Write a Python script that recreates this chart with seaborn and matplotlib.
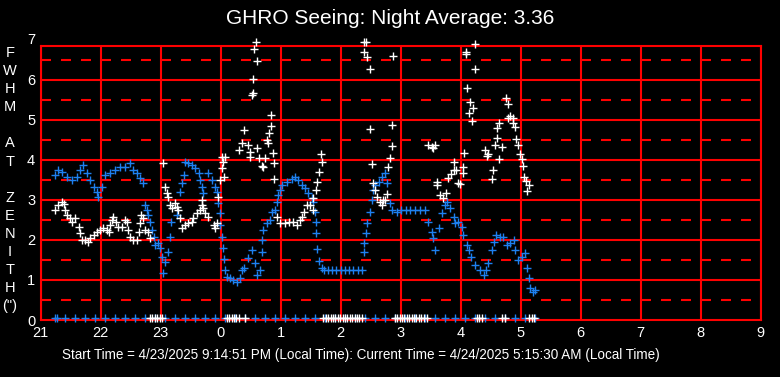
import matplotlib
matplotlib.use("Agg")
import matplotlib.pyplot as plt
import pandas as pd
import seaborn as sns

sns.set_style("dark", {"axes.facecolor": "black", "figure.facecolor": "black"})
plt.rcParams["font.family"] = ["Liberation Sans", "DejaVu Sans"]
plt.rcParams["lines.scale_dashes"] = False

TITLE = "GHRO Seeing: Night Average: 3.36"
FOOTER = ("Start Time = 4/23/2025 9:14:51 PM (Local Time): "
          "Current Time = 4/24/2025 5:15:30 AM (Local Time)")
YLABEL = ["F", "W", "H", "M", "", "A", "T", "", "Z", "E", "N", "I", "T", "H", '(")']

# hours since midnight of the start day (24+ = next morning)
hour_ticks = list(range(21, 34))
hour_labels = [str(h % 24) for h in hour_ticks]
y_ticks = [0, 1, 2, 3, 4, 5, 6]

# FWHM at zenith (white series)
white_t = [21.24, 21.29, 21.35, 21.38, 21.41, 21.43, 21.49, 21.52, 21.57, 21.63,
           21.66, 21.68, 21.74, 21.79, 21.82, 21.88, 21.93, 21.99, 22.04, 22.10,
           22.13, 22.16, 22.18, 22.21, 22.26, 22.29, 22.35, 22.41, 22.44, 22.46,
           22.49, 22.54, 22.60, 22.63, 22.65, 22.67, 22.70, 22.74, 22.79, 22.82,
           23.04, 23.07, 23.10, 23.12, 23.15, 23.18, 23.24, 23.27, 23.29, 23.32,
           23.35, 23.41, 23.46, 23.52, 23.54, 23.60, 23.66, 23.68, 23.69, 23.71,
           23.74, 23.79, 23.88, 23.91, 23.93, 23.96, 23.99, 24.02, 24.04, 24.07,
           24.02, 24.06,
           24.35, 24.31, 24.39, 24.46, 24.49, 24.48, 24.52, 24.53, 24.54, 24.56,
           24.58, 24.60, 24.61, 24.64, 24.68, 24.71, 24.74, 24.77, 24.79, 24.81,
           24.83, 24.84, 24.87, 24.88, 24.89, 24.93, 24.99, 25.07, 25.13, 25.21,
           25.27, 25.32, 25.35, 25.38, 25.43, 25.49, 25.53, 25.54, 25.59, 25.61,
           25.64, 25.68, 25.67,
           26.38, 26.42, 26.38, 26.44, 26.48, 26.49, 26.52, 26.54, 26.57, 26.60,
           26.66, 26.68, 26.71, 26.74, 26.77, 26.79, 26.82, 26.85, 26.86, 26.87,
           27.46, 27.52, 27.54, 27.57, 27.60, 27.61, 27.66, 27.71, 27.76, 27.79,
           27.83, 27.88, 27.89, 27.92, 27.96, 27.99, 28.03, 28.04, 28.06, 28.08,
           28.09, 28.11, 28.13, 28.16, 28.19, 28.21, 28.23, 28.24,
           28.41, 28.43, 28.46, 28.52, 28.54, 28.57, 28.60, 28.61, 28.63, 28.64,
           28.68, 28.75, 28.78, 28.79, 28.82, 28.87, 28.87, 28.91, 28.92, 28.95,
           28.98, 29.02, 29.04, 29.06, 29.09, 29.10, 29.13]
white_v = [2.75, 2.87, 2.96, 2.90, 2.75, 2.62, 2.54, 2.46, 2.54, 2.33,
           2.17, 2.00, 2.00, 1.96, 2.04, 2.12, 2.21, 2.25, 2.29, 2.25,
           2.21, 2.37, 2.50, 2.57, 2.46, 2.33, 2.33, 2.50, 2.46, 2.25,
           2.08, 2.00, 2.00, 2.21, 2.42, 2.62, 2.54, 2.25, 2.21, 2.04,
           3.92, 3.33, 3.17, 3.08, 2.87, 2.79, 2.92, 2.83, 2.75, 2.54,
           2.29, 2.37, 2.42, 2.46, 2.54, 2.67, 2.75, 2.87, 3.00, 2.79,
           2.67, 2.58, 2.37, 2.29, 2.42, 3.08, 3.50, 3.79, 3.96, 4.08,
           4.08, 3.58,
           4.43, 4.25, 4.75, 4.37, 4.21, 4.08, 5.62, 5.67, 6.02, 6.77,
           6.94, 6.48, 4.29, 4.04, 3.85, 3.83, 4.04, 4.50, 4.43, 4.68,
           4.85, 5.12, 4.17, 3.92, 3.52, 2.58, 2.42, 2.43, 2.46, 2.46,
           2.37, 2.50, 2.58, 2.71, 2.87, 2.87, 2.75, 3.04, 3.25, 3.46,
           3.71, 3.96, 4.15,
           6.94, 6.94, 6.69, 6.58, 6.27, 4.77, 3.89, 3.42, 3.25, 3.08,
           2.96, 2.87, 3.00, 3.00, 3.15, 3.82, 4.04, 4.35, 4.87, 6.60,
           4.37, 4.33, 4.29, 4.37, 3.37, 3.46, 3.12, 3.04, 3.18, 3.54,
           3.65, 3.75, 3.94, 3.75, 3.42, 3.40, 3.67, 3.83, 4.17, 6.71,
           6.65, 5.79, 5.17, 5.46, 4.98, 5.29, 6.27, 6.89,
           4.25, 4.10, 4.15, 3.52, 3.75, 4.37, 4.54, 4.79, 4.93, 4.02,
           4.32, 5.54, 5.40, 5.04, 5.10, 5.04, 4.92, 4.82, 4.52, 4.37,
           4.15, 4.02, 3.85, 3.58, 3.48, 3.22, 3.37]

# white samples sitting on the zero line
white_zero_t = [22.82, 22.86, 22.90, 22.94, 22.98, 23.02,
                24.10, 24.14, 24.18, 24.22, 24.26, 24.30, 24.41,
                25.71, 25.75, 25.79, 25.83, 25.87, 25.91, 25.95, 25.99, 26.03,
                26.07, 26.11, 26.15, 26.19, 26.23, 26.27, 26.31, 26.35,
                26.90, 26.94, 26.98, 27.02, 27.06, 27.10, 27.14, 27.18, 27.22,
                27.26, 27.30, 27.34, 27.38, 27.43,
                28.27, 28.31, 28.35, 28.69, 28.73,
                29.14, 29.18, 29.22]
white_zero_v = [0.04] * len(white_zero_t)

# blue series
blue_t = [21.24, 21.29, 21.35, 21.43, 21.52, 21.60, 21.66, 21.71, 21.77, 21.82,
          21.88, 21.93, 21.96, 22.02, 22.07, 22.16, 22.24, 22.32, 22.41, 22.49,
          22.54, 22.60, 22.65, 22.71, 22.74, 22.77, 22.79, 22.82, 22.85, 22.88,
          22.91, 22.96, 22.99, 23.02, 23.04, 23.07, 23.12, 23.16, 23.17, 23.27,
          23.32, 23.35, 23.38, 23.41, 23.46, 23.52, 23.57, 23.63, 23.66, 23.68,
          23.71, 23.79, 23.85, 23.91, 23.93, 23.96, 23.98, 23.99, 24.02, 24.03,
          24.06, 24.07, 24.10, 24.16, 24.21, 24.27, 24.32, 24.35, 24.38, 24.46,
          24.52, 24.57, 24.60, 24.66, 24.68, 24.69, 24.71, 24.77, 24.82, 24.85,
          24.91, 24.93, 24.96, 24.98, 25.02, 25.10, 25.18, 25.24, 25.29, 25.35,
          25.41, 25.46, 25.52, 25.54, 25.57, 25.58, 25.59, 25.61, 25.64, 25.68,
          25.72, 25.78, 25.85, 25.92, 26.00, 26.07, 26.14, 26.21, 26.28, 26.35,
          26.38, 26.39, 26.42, 26.44, 26.49, 26.52, 26.54, 26.57, 26.63, 26.68,
          26.74, 26.77, 26.82, 26.85, 26.93, 27.00, 27.08, 27.16, 27.24, 27.32,
          27.40, 27.46, 27.52, 27.54, 27.57, 27.63, 27.68, 27.74, 27.77, 27.82,
          27.88, 27.91, 27.96, 28.02, 28.04, 28.10, 28.13, 28.17, 28.24, 28.32,
          28.38, 28.42, 28.46, 28.52, 28.56, 28.59, 28.66, 28.71, 28.77, 28.82,
          28.88, 28.90, 28.96, 29.02, 29.07, 29.11, 29.13, 29.16, 29.21, 29.24]
blue_v = [3.62, 3.75, 3.71, 3.58, 3.50, 3.58, 3.75, 3.87, 3.67, 3.50,
          3.33, 3.21, 3.08, 3.33, 3.62, 3.67, 3.75, 3.83, 3.83, 3.93,
          3.75, 3.67, 3.54, 3.42, 2.87, 2.75, 2.62, 2.46, 2.25, 2.08,
          1.87, 1.92, 1.80, 1.58, 1.17, 1.46, 1.70, 2.08, 2.46, 2.62,
          3.21, 3.42, 3.62, 3.96, 3.92, 3.87, 3.79, 3.67, 3.50, 3.33,
          3.17, 3.67, 3.50, 3.33, 3.21, 2.92, 2.67, 2.37, 2.08, 1.79,
          1.52, 1.25, 1.08, 1.04, 1.00, 0.96, 1.04, 1.25, 1.29, 1.54,
          1.75, 1.42, 1.12, 1.25, 1.71, 2.00, 2.25, 2.42, 2.50, 2.71,
          2.75, 2.96, 3.12, 3.25, 3.37, 3.46, 3.52, 3.58, 3.50, 3.37,
          3.29, 3.17, 3.04, 2.96, 2.71, 2.46, 2.17, 1.77, 1.48, 1.29,
          1.25, 1.25, 1.25, 1.25, 1.25, 1.25, 1.25, 1.25, 1.25, 1.25,
          1.71, 1.92, 2.17, 2.42, 2.71, 3.00, 3.25, 3.37, 3.46, 3.58,
          3.67, 3.42, 2.92, 2.75, 2.71, 2.75, 2.75, 2.75, 2.75, 2.75,
          2.75, 2.46, 2.21, 2.04, 1.75, 2.29, 2.67, 2.87, 2.96, 2.79,
          2.58, 2.42, 2.46, 2.33, 2.12, 1.87, 1.75, 1.58, 1.37, 1.25,
          1.12, 1.25, 1.42, 1.75, 1.96, 2.12, 2.08, 2.08, 1.87, 1.92,
          2.00, 1.75, 1.50, 1.58, 1.67, 1.29, 1.04, 0.79, 0.71, 0.75]

# blue samples on the zero line (every 10 minutes)
blue_zero_t = [21.24, 21.27, 21.41, 21.57, 21.74, 21.91, 22.07, 22.24, 22.41, 22.57,
               22.74, 22.91, 23.07, 23.24, 23.41, 23.57, 23.74, 23.91, 24.07, 24.24,
               24.41, 24.57, 24.74, 24.91, 25.07, 25.24, 25.41, 25.57, 25.74, 25.91,
               26.07, 26.24, 26.41, 26.57, 26.74, 26.91, 27.07, 27.24, 27.41, 27.57,
               27.74, 27.91, 28.07, 28.24, 28.41, 28.57, 28.74, 28.91, 29.07, 29.24]
blue_zero_v = [0.04] * len(blue_zero_t)

BLUE = "#1e80f0"
RED = "#ff0000"

blue = pd.DataFrame({"t": blue_t + blue_zero_t, "v": blue_v + blue_zero_v})
white = pd.DataFrame({"t": white_t + white_zero_t, "v": white_v + white_zero_v})

fig = plt.figure(figsize=(7.8, 3.77), dpi=100)
fig.patch.set_facecolor("black")
ax = fig.add_axes([40.7 / 780, 57 / 377, 720 / 780, 274.5 / 377])
ax.set_facecolor("black")

# grid
for h in hour_ticks:
    ax.axvline(h, color=RED, lw=1.5, zorder=1)
for y in y_ticks[1:]:
    ax.axhline(y, color=RED, lw=1.5, zorder=1)
for y in y_ticks:
    ax.axhline(y + 0.5, color=RED, lw=1.5, ls=(0, (7.2, 7.2)), zorder=1)

sns.scatterplot(data=blue, x="t", y="v", marker="+", color=BLUE, s=30,
                linewidth=1.0, ax=ax, clip_on=False, zorder=3)
sns.scatterplot(data=white, x="t", y="v", marker="+", color="white", s=30,
                linewidth=1.0, ax=ax, clip_on=False, zorder=4)

ax.set_xlim(21, 33)
ax.set_ylim(0, 6.86)
ax.set_xticks(hour_ticks)
ax.set_xticklabels(hour_labels)
ax.set_yticks(y_ticks)
ax.tick_params(colors="white", labelsize=10.5, length=0, pad=4)
ax.set_xlabel("")
ax.set_ylabel("")
ax.grid(False)
# the top label sits above the plotting window
ax.text(-5 / 720, 7, "7", transform=ax.get_yaxis_transform(), ha="right",
        va="center", color="white", fontsize=10.5)
for sp in ax.spines.values():
    sp.set_color(RED)
    sp.set_linewidth(1.5)
    sp.set_visible(True)

fig.text(0.5, 1 - 18 / 377, TITLE, ha="center", va="center", color="white",
         fontsize=15)
fig.text(62 / 780, 1 - 355 / 377, FOOTER, ha="left", va="center", color="white",
         fontsize=9.75)
for i, ch in enumerate(YLABEL):
    fig.text(10 / 780, 1 - (53 + 18.1 * i) / 377, ch, ha="center", va="center",
             color="white", fontsize=10.5)

fig.savefig("out.png", dpi=100, facecolor="black")
